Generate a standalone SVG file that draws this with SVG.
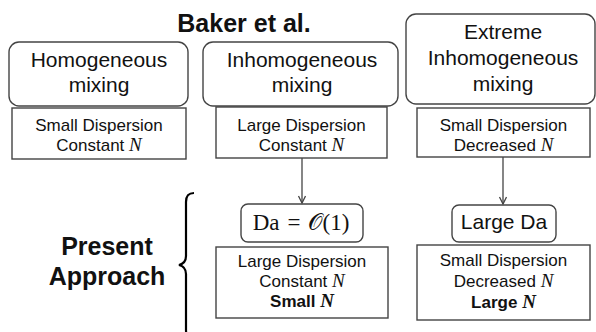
<svg xmlns="http://www.w3.org/2000/svg" width="596" height="332" viewBox="0 0 596 332">
<style>
.rb{fill:#fff;stroke:#444;stroke-width:1.4}
.bx{fill:#fff;stroke:#444;stroke-width:1.4}
.t{font-family:"Liberation Sans",Arial,sans-serif;fill:#111;text-anchor:middle}
.big{font-size:21px}
.sm{font-size:17px}
.hd{font-size:25px;font-weight:bold}
.b{font-weight:bold}
.m{font-family:"Liberation Serif","Times New Roman",serif;font-style:italic;font-size:19px}
.mt{font-family:"Liberation Serif","DejaVu Serif","Times New Roman",serif;font-size:23px;fill:#111;text-anchor:middle}
.e{stroke:#444;stroke-width:1.3;fill:none}
</style>
<defs>
<marker id="ah" markerWidth="10" markerHeight="10" refX="8" refY="4" orient="auto" markerUnits="userSpaceOnUse">
<path d="M1,0.5 L8,4 L1,7.5" fill="none" stroke="#444" stroke-width="1.3"/>
</marker>
</defs>
<rect width="596" height="332" fill="#fff"/>

<text class="t hd" x="244" y="32">Baker et al.</text>

<g id="homogeneous">
<rect class="rb" x="9" y="42" width="179" height="64" rx="10"/>
<text class="t big" x="99" y="67">Homogeneous</text>
<text class="t big" x="99" y="92">mixing</text>
</g>
<g id="inhomogeneous">
<rect class="rb" x="203" y="42" width="195" height="64" rx="10"/>
<text class="t big" x="302" y="67">Inhomogeneous</text>
<text class="t big" x="302" y="92">mixing</text>
</g>
<g id="extreme">
<rect class="rb" x="406" y="14" width="189" height="90" rx="10"/>
<text class="t big" x="503" y="39">Extreme</text>
<text class="t big" x="503" y="65">Inhomogeneous</text>
<text class="t big" x="503" y="91">mixing</text>
</g>

<g id="baker1">
<rect class="bx" x="12" y="108" width="174" height="51"/>
<text class="t sm" x="99" y="131">Small Dispersion</text>
<text class="t sm" x="99" y="151">Constant <tspan class="m">N</tspan></text>
</g>
<g id="baker2">
<rect class="bx" x="216" y="107" width="171" height="51"/>
<text class="t sm" x="301.5" y="131">Large Dispersion</text>
<text class="t sm" x="301.5" y="151">Constant <tspan class="m">N</tspan></text>
</g>
<g id="baker3">
<rect class="bx" x="417" y="108" width="173" height="49"/>
<text class="t sm" x="503.5" y="131">Small Dispersion</text>
<text class="t sm" x="503.5" y="151">Decreased <tspan class="m">N</tspan></text>
</g>

<g id="da1">
<rect class="rb" x="241" y="204" width="122" height="38" rx="7"/>
<text class="mt" x="301" y="230">Da<tspan dx="8">=</tspan><tspan dx="8">𝒪(1)</tspan></text>
</g>
<g id="present1">
<rect class="bx" x="216" y="247" width="172" height="71"/>
<text class="t sm" x="302" y="267">Large Dispersion</text>
<text class="t sm" x="302" y="287">Constant <tspan class="m">N</tspan></text>
<text class="t sm b" x="302" y="307">Small <tspan class="m">N</tspan></text>
</g>
<g id="da2">
<rect class="rb" x="452" y="205" width="104" height="37" rx="7"/>
<text class="t big" x="504" y="229">Large Da</text>
</g>
<g id="present2">
<rect class="bx" x="417" y="245" width="173" height="75"/>
<text class="t sm" x="503.5" y="266">Small Dispersion</text>
<text class="t sm" x="503.5" y="287">Decreased <tspan class="m">N</tspan></text>
<text class="t sm b" x="503.5" y="308">Large <tspan class="m">N</tspan></text>
</g>

<g id="connectors">
<line class="e" x1="302" y1="158" x2="302" y2="203" marker-end="url(#ah)"/>
<line class="e" x1="503" y1="157" x2="503" y2="204" marker-end="url(#ah)"/>
</g>

<g id="present-approach">
<path d="M194,193 C188,193 186,196 186,202 L186,256 C186,262 183,264 179,265 C183,266 186,268 186,274 L186,330 C186,336 188,337 194,337" fill="none" stroke="#000" stroke-width="2.2"/>
<text class="t hd" x="107" y="255">Present</text>
<text class="t hd" x="107" y="285">Approach</text>
</g>
</svg>
